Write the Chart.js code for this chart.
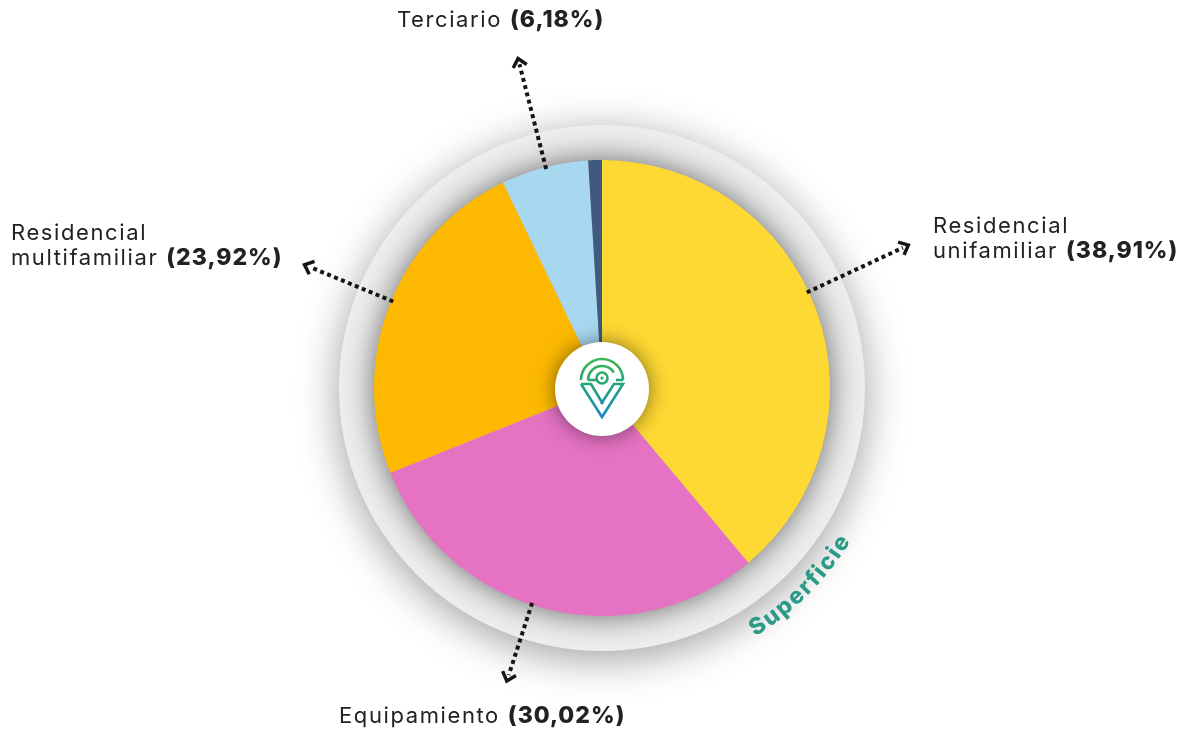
<!DOCTYPE html>
<html>
<head>
<meta charset="utf-8">
<script src="https://cdn.jsdelivr.net/npm/chart.js@4"></script>
<style>
  html, body { margin: 0; padding: 0; background: #fff; }
  #wrap { width: 1190px; height: 733px; }
</style>
</head>
<body>
<div id="wrap"><canvas id="superficie" width="1190" height="733"></canvas></div>
<script>
// Datos (porcentaje de superficie)
const categorias = ['Residencial unifamiliar', 'Equipamiento', 'Residencial multifamiliar', 'Terciario', 'Otros'];
const porcentajes = [38.91, 30.02, 23.92, 6.18, 0.97];
const etiquetasPct = ['(38,91%)', '(30,02%)', '(23,92%)', '(6,18%)', ''];
const colores = ['#FED833', '#E572C3', '#FDB901', '#A8D8F0', '#3E5A7F'];

const FUENTE = 'Inter, "Open Sans", sans-serif';

// Posición de las flechas y textos (ángulo en grados desde arriba, sentido horario)
const anotaciones = [
  { i: 0, ang: 65, r0: 226, r1: 338, lineas: ['Residencial', 'unifamiliar'], x: 933, y: 233 },
  { i: 1, ang: 198, r0: 226, r1: 308, lineas: ['Equipamiento'], x: 339, y: 723 },
  { i: 2, ang: 292.5, r0: 226, r1: 322, lineas: ['Residencial', 'multifamiliar'], x: 11, y: 240 },
  { i: 3, ang: 345.7, r0: 226, r1: 340, lineas: ['Terciario'], x: 397, y: 27 }
];

const decoracion = {
  id: 'decoracion',
  beforeDatasetsDraw(chart) {
    const ctx = chart.ctx;
    const arc = chart.getDatasetMeta(0).data[0];
    const cx = arc.x, cy = arc.y, r = arc.outerRadius;
    // anillo gris exterior
    ctx.save();
    ctx.shadowColor = 'rgba(0,0,0,0.38)';
    ctx.shadowBlur = 42;
    ctx.shadowOffsetY = 8;
    ctx.fillStyle = '#eeeeee';
    ctx.beginPath();
    ctx.arc(cx, cy, r + 35, 0, Math.PI * 2);
    ctx.fill();
    ctx.restore();
    // sombra de la tarta
    ctx.save();
    ctx.shadowColor = 'rgba(0,0,0,0.6)';
    ctx.shadowBlur = 32;
    ctx.fillStyle = '#bbb';
    ctx.beginPath();
    ctx.arc(cx, cy, r - 1, 0, Math.PI * 2);
    ctx.fill();
    ctx.restore();
  },
  afterDatasetsDraw(chart) {
    const ctx = chart.ctx;
    const arc = chart.getDatasetMeta(0).data[0];
    const cx = arc.x, cy = arc.y, r = arc.outerRadius;

    // círculo central
    ctx.save();
    ctx.shadowColor = 'rgba(0,0,0,0.5)';
    ctx.shadowBlur = 20;
    ctx.fillStyle = '#fff';
    ctx.beginPath();
    ctx.arc(cx, cy + 1, 47, 0, Math.PI * 2);
    ctx.fill();
    ctx.restore();
    dibujarLogo(ctx, cx, cy);

    // flechas punteadas
    anotaciones.forEach(a => {
      const t = a.ang * Math.PI / 180;
      const dx = Math.sin(t), dy = -Math.cos(t);
      const x0 = cx + dx * a.r0, y0 = cy + dy * a.r0;
      const x1 = cx + dx * a.r1, y1 = cy + dy * a.r1;
      ctx.save();
      ctx.strokeStyle = '#151515';
      ctx.lineWidth = 4;
      ctx.setLineDash([4, 3.5]);
      ctx.beginPath();
      ctx.moveTo(x0, y0);
      ctx.lineTo(x1 - dx * 6, y1 - dy * 6);
      ctx.stroke();
      ctx.setLineDash([]);
      // punta
      const nx = -dy, ny = dx;
      ctx.lineWidth = 3.5;
      ctx.beginPath();
      ctx.moveTo(x1 - dx * 8 + nx * 7, y1 - dy * 8 + ny * 7);
      ctx.lineTo(x1, y1);
      ctx.lineTo(x1 - dx * 8 - nx * 7, y1 - dy * 8 - ny * 7);
      ctx.stroke();
      ctx.restore();

      // texto
      ctx.save();
      ctx.fillStyle = '#222';
      ctx.textBaseline = 'alphabetic';
      ctx.textAlign = 'left';
      const n = a.lineas.length;
      a.lineas.forEach((ln, k) => {
        const y = a.y + k * 25;
        ctx.font = '400 22px ' + FUENTE;
        ctx.letterSpacing = '1.6px';
        ctx.fillText(ln, a.x, y);
        if (k === n - 1) {
          const w = ctx.measureText(ln).width;
          ctx.font = '800 23px ' + FUENTE;
          ctx.letterSpacing = '1px';
          ctx.fillText(etiquetasPct[a.i], a.x + w + 8, y);
        }
      });
      ctx.restore();
    });

    // texto curvo "Superficie"
    textoCurvo(ctx, 'Superficie', cx, cy, r + 64, 45);
  }
};

function textoCurvo(ctx, txt, cx, cy, radio, centroGrados) {
  ctx.save();
  ctx.font = '800 23px ' + FUENTE;
  ctx.fillStyle = '#2C9A88';
  ctx.textAlign = 'center';
  ctx.textBaseline = 'alphabetic';
  const esp = 2;
  const anchos = [...txt].map(c => ctx.measureText(c).width + esp);
  const total = anchos.reduce((s, w) => s + w, 0) - esp;
  let th = centroGrados * Math.PI / 180 + (total / 2) / radio;
  [...txt].forEach((c, k) => {
    const w = anchos[k];
    const a = th - (w - esp) / 2 / radio;
    ctx.save();
    ctx.translate(cx + Math.cos(a) * radio, cy + Math.sin(a) * radio);
    ctx.rotate(a - Math.PI / 2);
    ctx.fillText(c, 0, 0);
    ctx.restore();
    th -= w / radio;
  });
  ctx.restore();
}

function dibujarLogo(ctx, cx, cy) {
  ctx.save();
  const g = ctx.createLinearGradient(cx, cy - 33, cx, cy + 32);
  g.addColorStop(0, '#43B649');
  g.addColorStop(0.45, '#22A57A');
  g.addColorStop(1, '#1C84C9');
  ctx.strokeStyle = g;
  ctx.fillStyle = g;
  ctx.lineWidth = 2.6;
  ctx.lineCap = 'butt';
  const oy = cy - 8;
  ctx.beginPath();
  ctx.arc(cx, oy, 21, Math.PI, Math.PI * 2);
  ctx.stroke();
  ctx.beginPath();
  ctx.arc(cx, oy, 14, Math.PI, Math.PI * 1.82);
  ctx.stroke();
  ctx.beginPath();
  ctx.arc(cx, oy - 2, 5.5, 0, Math.PI * 2);
  ctx.stroke();
  ctx.beginPath();
  ctx.arc(cx, oy - 2, 1.6, 0, Math.PI * 2);
  ctx.fill();
  ctx.beginPath();
  ctx.moveTo(cx - 14, oy);
  ctx.lineTo(cx - 6, oy);
  ctx.moveTo(cx + 14, oy);
  ctx.lineTo(cx + 21, oy);
  // V
  ctx.moveTo(cx - 21, oy + 4);
  ctx.lineTo(cx, oy + 37);
  ctx.lineTo(cx + 21, oy + 4);
  ctx.lineTo(cx + 12, oy + 4);
  ctx.lineTo(cx - 1, oy + 24);
  ctx.moveTo(cx - 21, oy + 4);
  ctx.lineTo(cx - 11, oy + 4);
  ctx.lineTo(cx + 1, oy + 24);
  ctx.stroke();
  ctx.restore();
}

const ctx = document.getElementById('superficie').getContext('2d');
const grafico = new Chart(ctx, {
  type: 'pie',
  data: {
    labels: categorias,
    datasets: [{
      data: porcentajes,
      backgroundColor: colores,
      borderWidth: 0,
      hoverOffset: 0
    }]
  },
  options: {
    responsive: false,
    devicePixelRatio: 1,
    animation: false,
    layout: { padding: { top: 160, bottom: 117, left: 374, right: 360 } },
    plugins: {
      legend: { display: false },
      tooltip: { enabled: false }
    },
    events: []
  },
  plugins: [decoracion]
});
</script>
</body>
</html>
